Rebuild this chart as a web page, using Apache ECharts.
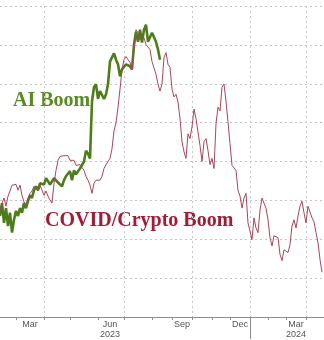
<!DOCTYPE html>
<html>
<head>
<meta charset="utf-8">
<script src="https://cdn.jsdelivr.net/npm/echarts@6/dist/echarts.min.js"></script>
<style>
html,body{margin:0;padding:0;background:#fff;}
#chart{width:324px;height:340px;}
</style>
</head>
<body>
<div id="chart"></div>
<script>
// x positions: category index (one per ~2 trading-day step)
const categories = Array.from({length: 163}, (_, i) => String(i));

// month boundaries (tick marks), quarter boundaries (grid lines), label positions
const monthStarts = [8, 22, 35, 49, 62, 76, 86, 96, 106, 115, 125, 134, 143, 153];
const quarterStarts = [22, 62, 96, 125, 153];
const yearStart = 125;
const tickLabels = {15: 'Mar', 55: 'Jun\n2023', 91: 'Sep', 120: 'Dec', 148: 'Mar\n2024'};

// AI Boom (green)
const aiBoom = [
  26.0, 29.3, 24.2, 28.0, 23.4, 26.8, 21.7, 25.0, 27.3, 26.0,
  28.0, 26.8, 29.3, 28.0, 29.8, 31.3, 30.6, 32.6, 33.6, 32.6,
  34.4, 34.9, 34.1, 35.7, 34.9, 34.1, 33.6, 35.7, 36.2, 34.6,
  34.9, 33.6, 35.2, 36.2, 36.9, 37.5, 35.2, 37.7, 36.7, 36.2,
  38.2, 38.7, 40.0, 42.8, 42.0, 40.8, 55.5, 59.1, 59.9, 56.1,
  58.1, 57.1, 56.1, 57.3, 59.9, 65.7, 66.8, 67.8, 66.2, 65.0,
  61.9, 63.7, 64.2, 65.0, 64.7, 64.5, 63.7, 70.1, 73.4, 70.8,
  73.9, 70.6, 73.9, 75.2, 70.8, 71.3, 73.1, 73.1, 70.8, 68.8,
  66.2
];

// COVID/Crypto Boom (red)
const covidCrypto = [
  27.5, 29.3, 30.6, 28.5, 31.1, 32.4, 33.9, 34.4, 34.1, 32.6,
  33.9, 31.3, 29.6, 28.8, 30.6, 31.8, 32.4, 33.6, 33.1, 32.4,
  33.9, 32.6, 31.3, 32.4, 31.1, 30.1, 29.3, 34.4, 37.7, 40.3,
  41.3, 40.8, 41.5, 41.3, 41.5, 40.3, 40.0, 40.3, 39.0, 38.7,
  39.2, 38.7, 37.7, 36.2, 35.2, 33.9, 31.8, 34.4, 35.2, 35.7,
  35.2, 36.2, 38.2, 39.2, 39.5, 40.8, 43.3, 47.9, 49.9, 54.0,
  58.6, 63.7, 66.2, 67.0, 66.2, 65.5, 63.7, 68.8, 73.9, 73.1,
  71.3, 72.4, 71.8, 70.1, 69.6, 68.8, 65.7, 66.2, 62.4, 59.9,
  58.1, 59.9, 66.8, 68.0, 65.0, 64.2, 58.6, 56.6, 57.3, 55.3,
  51.0, 45.1, 42.5, 40.8, 47.1, 45.9, 48.9, 53.5, 51.0, 51.0,
  44.1, 40.0, 45.1, 45.9, 42.8, 39.2, 40.8, 38.2, 49.7, 54.0,
  53.0, 59.1, 59.9, 55.5, 50.2, 44.6, 39.0, 39.2, 37.7, 32.6,
  31.1, 28.0, 30.6, 31.8, 24.2, 24.7, 19.9, 25.5, 22.9, 21.7,
  27.5, 30.6, 29.3, 28.0, 25.0, 20.4, 18.3, 20.9, 20.9, 20.4,
  16.1, 14.5, 17.3, 17.8, 16.6, 18.6, 23.4, 25.0, 22.9, 26.0,
  28.5, 29.8, 26.8, 24.2, 28.5, 28.0, 25.5, 24.5, 21.7, 19.1,
  14.8, 11.5
];

const chart = echarts.init(document.getElementById('chart'), null, {renderer: 'canvas'});
const gridLine = {lineStyle: {color: '#c6c6c6', type: [2, 3], width: 1}};
chart.setOption({
  animation: false,
  backgroundColor: '#ffffff',
  grid: {left: 0, right: 0, top: 6, bottom: 20, containLabel: false},
  xAxis: [{
    type: 'category',
    data: categories,
    boundaryGap: false,
    axisLine: {lineStyle: {color: '#8c8c8c', width: 1}},
    axisTick: {show: true, interval: (i) => monthStarts.includes(i), length: 3, lineStyle: {color: '#8c8c8c'}},
    axisLabel: {
      interval: (i) => tickLabels[i] !== undefined,
      formatter: (v) => tickLabels[v] || '',
      color: '#555', fontSize: 9, fontFamily: 'Liberation Sans', margin: 3, lineHeight: 10
    },
    splitLine: {show: true, interval: (i) => quarterStarts.includes(i), lineStyle: gridLine.lineStyle}
  }, {
    type: 'category',
    data: categories,
    boundaryGap: false,
    position: 'bottom',
    axisLine: {show: false},
    axisLabel: {show: false},
    splitLine: {show: false},
    axisTick: {show: true, interval: (i) => i === yearStart, length: 22, lineStyle: {color: '#8c8c8c'}}
  }],
  yAxis: {
    type: 'value', min: 0, max: 80, interval: 10,
    axisLine: {show: false}, axisTick: {show: false}, axisLabel: {show: false},
    splitLine: {show: true, lineStyle: gridLine.lineStyle}
  },
  series: [{
    name: 'AI Boom', type: 'line', data: aiBoom, showSymbol: false, symbol: 'none',
    lineStyle: {color: '#4d7d1b', width: 2.6}, z: 2
  }, {
    name: 'COVID/Crypto Boom', type: 'line', data: covidCrypto, showSymbol: false, symbol: 'none',
    lineStyle: {color: '#a3485c', width: 1}, z: 3
  }],
  graphic: [{
    type: 'text', left: 13, top: 91,
    style: {text: 'AI Boom', font: 'bold 20px "Liberation Serif", serif', fill: '#5a8a22'}
  }, {
    type: 'text', left: 45, top: 211,
    style: {text: 'COVID/Crypto Boom', font: 'bold 20px "Liberation Serif", serif', fill: '#a01d36'}
  }]
});
</script>
</body>
</html>
